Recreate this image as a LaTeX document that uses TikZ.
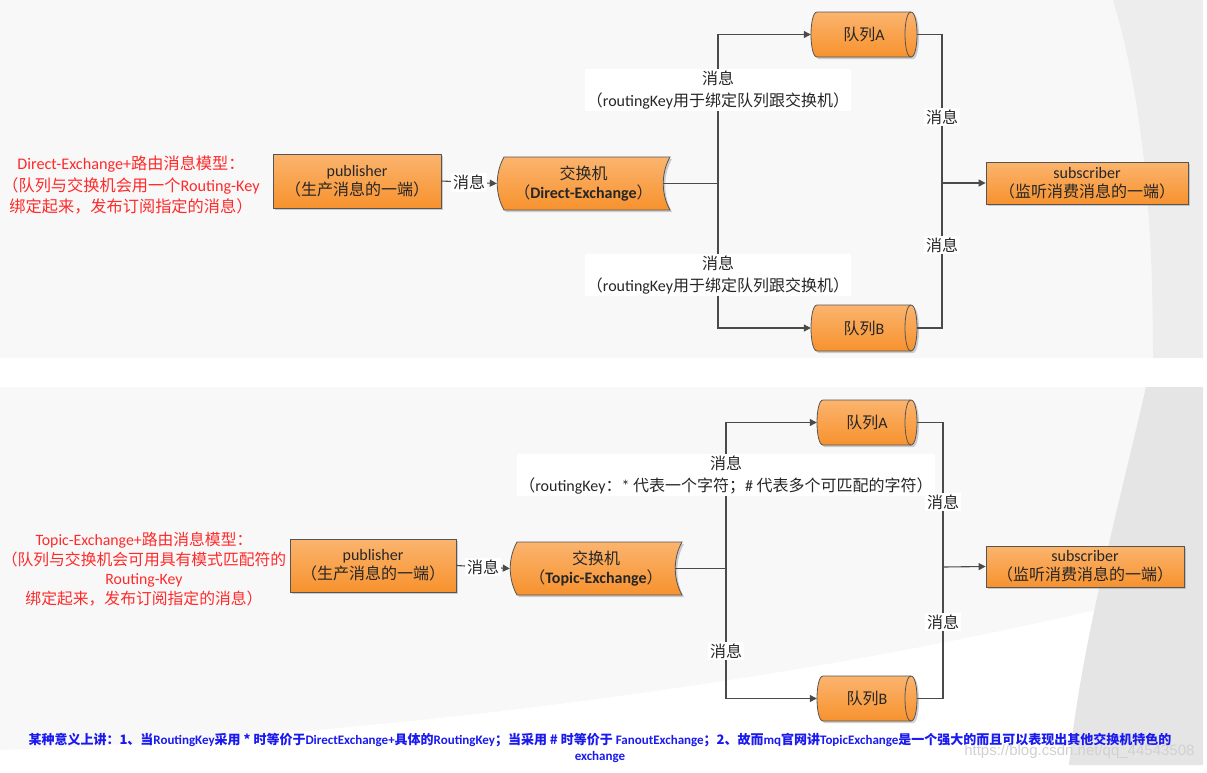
\documentclass[tikz,border=0pt]{standalone}
\usepackage{fontspec}
\setmainfont{Noto Sans CJK SC}
\newfontfamily\lat{Carlito}
\newfontfamily\wm{Liberation Sans}
\usetikzlibrary{arrows.meta,shadows}
\definecolor{bg}{HTML}{F8F8F8}
\definecolor{bgdark}{HTML}{EDEDED}
\definecolor{bgdark2}{HTML}{E5E5E5}
\definecolor{otop}{HTML}{FBB46E}
\definecolor{obot}{HTML}{F7922E}
\definecolor{edge}{HTML}{555555}
\definecolor{ln}{HTML}{4A4A4A}
\definecolor{redtxt}{HTML}{FF2A2A}
\definecolor{bluetxt}{HTML}{1A1AF0}
\definecolor{txt}{HTML}{262626}
\tikzset{
  orange/.style={draw=edge, line width=0.8pt, top color=otop, bottom color=obot,
    drop shadow={shadow xshift=2pt,shadow yshift=-2pt,opacity=0.3,fill=black!60}},
  boxtext/.style={font=\fontsize{16}{19}\selectfont, text=txt, align=center, inner sep=0pt},
  rectbox/.style={orange, boxtext, rectangle},
  ghost/.style={boxtext, draw=none, rectangle},
  conn/.style={draw=ln, line width=1.1pt},
  arr/.style={conn, -{Triangle[length=7pt,width=7pt]}},
  lbl/.style={fill=white, inner sep=2pt, font=\fontsize{16}{22}\selectfont, text=txt, align=center},
  redlbl/.style={font=\fontsize{16.2}{21.5}\selectfont, text=redtxt, align=center, inner sep=0pt},
}
% exchange (stored data) shape: x1 y1 x2 y2
\newcommand\exshape[4]{%
  \path[orange] (#1+7,#2) -- (#3,#2)
    .. controls (#3-9,#2+0.3*#4-0.3*#2) and (#3-9,#2+0.7*#4-0.7*#2) .. (#3,#4)
    -- (#1+7,#4)
    .. controls (#1-2,#2+0.7*#4-0.7*#2) and (#1-2,#2+0.3*#4-0.3*#2) .. (#1+7,#2) -- cycle;}
% queue (horizontal cylinder): x1 y1 x2 y2
\newcommand\qshape[4]{%
  \path[orange] (#1+6,#2) -- (#3-6,#2)
    .. controls (#3+2,#2) and (#3+2,#4) .. (#3-6,#4)
    -- (#1+6,#4)
    .. controls (#1-2,#4) and (#1-2,#2) .. (#1+6,#2) -- cycle;
  \draw[edge, line width=0.8pt] (#3-6,#2) .. controls (#3-14,#2) and (#3-14,#4) .. (#3-6,#4);}
\begin{document}
\begin{tikzpicture}[x=1pt,y=-1pt]
\useasboundingbox (0,0) rectangle (1207,772);
% backgrounds
\fill[white] (0,0) rectangle (1207,772);
\fill[bg] (0,0) rectangle (1203,358);
\fill[bgdark] (1113,0) .. controls (1140,90) and (1153,200) .. (1153,358) -- (1203,358) -- (1203,0) -- cycle;
\fill[bg] (0,387) rectangle (1203,765);
\fill[white] (1108,607) .. controls (800,680) and (400,735) .. (0,750) -- (0,765) -- (1069,765)
   .. controls (1080,700) and (1095,650) .. (1108,607) -- cycle;
\fill[bgdark2] (1146,387) .. controls (1120,500) and (1080,650) .. (1069,765) -- (1203,765) -- (1203,387) -- cycle;

% ===== top: direct exchange =====
\node[redlbl] (note1) at (131,185) {{\lat Direct-Exchange+}路由消息模型：\\（队列与交换机会用一个{\lat Routing-Key}\\绑定起来，发布订阅指定的消息）};
\node[rectbox, minimum width=168, minimum height=54] (pub1) at (357,181) {{\lat publisher}\\（生产消息的一端）};
\exshape{497}{157}{670}{210}
\node[ghost, minimum width=173, minimum height=53] (ex1) at (583.5,183.5) {交换机\\（{\lat\bfseries Direct-Exchange}）};
\qshape{811}{12}{917}{57}
\node[ghost, minimum width=106, minimum height=45] (qa1) at (864,34.5) {队列{\lat A}};
\qshape{811}{305}{917}{351}
\node[ghost, minimum width=106, minimum height=46] (qb1) at (864,328) {队列{\lat B}};
\node[rectbox, minimum width=202, minimum height=42] (sub1) at (1087,183) {{\lat subscriber}\\（监听消费消息的一端）};
\coordinate (j1) at (718,183.5);
\coordinate (r1) at (942,183);
\draw[arr] (pub1.east) -- (ex1.west) node[lbl, midway] (m1) {消息};
\draw[conn] ([xshift=-7pt]ex1.east) -- (j1);
\draw[arr] (j1) |- (qa1.west);
\draw[arr] (j1) |- (qb1.west);
\draw[conn] (qa1.east) -| (r1);
\draw[conn] (qb1.east) -| (r1);
\draw[arr] (r1) -- (sub1.west);
\node[lbl, minimum width=266] (k1) at (718,90) {消息\\（{\lat routingKey}用于绑定队列跟交换机）};
\node[lbl, minimum width=266] (k2) at (718,275) {消息\\（{\lat routingKey}用于绑定队列跟交换机）};
\node[lbl] (m2) at (942,117) {消息};
\node[lbl] (m3) at (942,245) {消息};

% ===== bottom: topic exchange =====
\node[redlbl, font=\fontsize{15.8}{19.7}\selectfont] (note2) at (144,569) {{\lat Topic-Exchange+}路由消息模型：\\（队列与交换机会可用具有模式匹配符的\\{\lat Routing-Key}\\绑定起来，发布订阅指定的消息）};
\node[rectbox, minimum width=166, minimum height=53] (pub2) at (373,565.5) {{\lat publisher}\\（生产消息的一端）};
\exshape{510}{542}{682}{595}
\node[ghost, minimum width=172, minimum height=53] (ex2) at (596,568.5) {交换机\\（{\lat\bfseries Topic-Exchange}）};
\qshape{817}{400}{917}{445}
\node[ghost, minimum width=100, minimum height=45] (qa2) at (867,422.5) {队列{\lat A}};
\qshape{817}{676}{917}{721}
\node[ghost, minimum width=100, minimum height=45] (qb2) at (867,698.5) {队列{\lat B}};
\node[rectbox, minimum width=198, minimum height=41] (sub2) at (1085,566.5) {{\lat subscriber}\\（监听消费消息的一端）};
\coordinate (j2) at (726,568.5);
\coordinate (r2) at (943,567);
\draw[arr] (pub2.east) -- (ex2.west) node[lbl, midway] (m4) {消息};
\draw[conn] ([xshift=-7pt]ex2.east) -- (j2);
\draw[arr] (j2) |- (qa2.west);
\draw[arr] (j2) |- (qb2.west);
\draw[conn] (qa2.east) -| (r2);
\draw[conn] (qb2.east) -| (r2);
\draw[arr] (r2) -- (sub2.west);
\node[lbl, minimum width=413] (k3) at (726,475) {消息\\（{\lat routingKey}：{\lat *} 代表一个字符；{\lat\#} 代表多个可匹配的字符）};
\node[lbl] (m5) at (726,651) {消息};
\node[lbl] (m6) at (943,502) {消息};
\node[lbl] (m7) at (943,622) {消息};

% ===== footer =====
\node[text=bluetxt, font=\bfseries\fontsize{13}{16}\selectfont, align=center] (foot) at (600,748)
 {某种意义上讲：1、当{\lat RoutingKey}采用 * 时等价于{\lat DirectExchange+}具体的{\lat RoutingKey}；当采用 \# 时等价于 {\lat FanoutExchange}；2、故而{\lat mq}官网讲{\lat TopicExchange}是一个强大的而且可以表现出其他交换机特色的\\{\lat exchange}};
\node[text=black!18, font=\wm\fontsize{15}{18}\selectfont, anchor=east] (wmk) at (1198,752) {https://blog.csdn.net/qq\_44543508};
\end{tikzpicture}
\end{document}
